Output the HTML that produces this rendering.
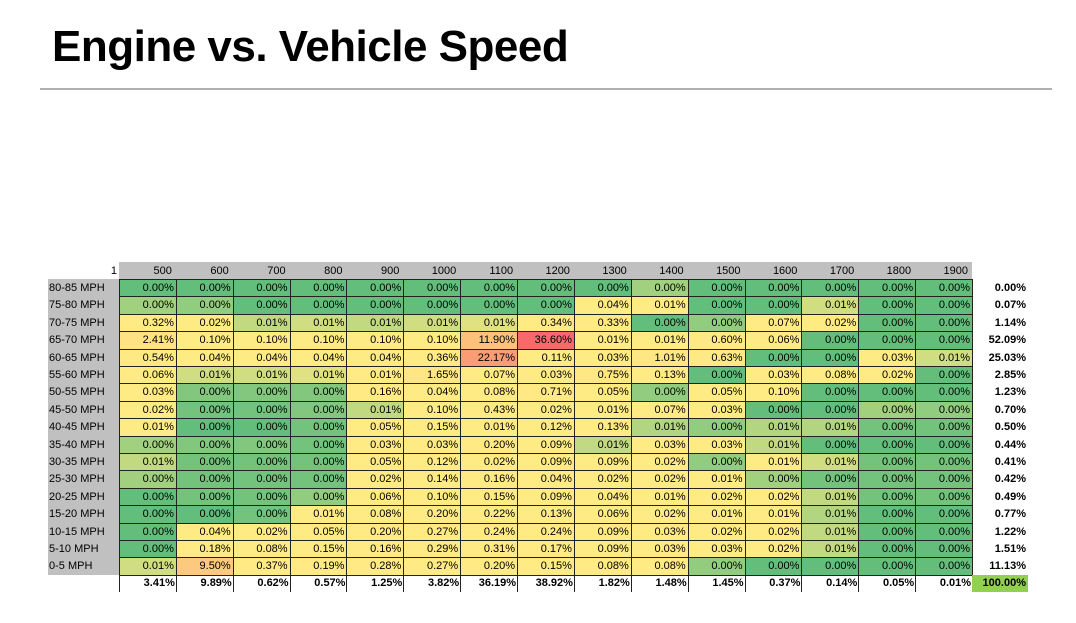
<!DOCTYPE html>
<html><head><meta charset="utf-8">
<style>
body{margin:0;width:1076px;height:623px;background:#fff;position:relative;overflow:hidden;font-family:"Liberation Sans",sans-serif}
#title{position:absolute;left:52px;top:22px;font-size:44px;font-weight:bold;color:#000;letter-spacing:-0.5px}
#rule{position:absolute;left:40px;top:88px;width:1012px;height:2px;background:#b0b0b0}
.c{position:absolute;box-sizing:border-box;font-size:11px;line-height:17px;text-align:right;padding-right:2px;white-space:nowrap;color:#000}
</style></head><body>
<div id="title">Engine vs. Vehicle Speed</div>
<div id="rule"></div>
<div id="grid"></div>
<script>
const rpm=["500","600","700","800","900","1000","1100","1200","1300","1400","1500","1600","1700","1800","1900"];
const speeds=["80-85 MPH","75-80 MPH","70-75 MPH","65-70 MPH","60-65 MPH","55-60 MPH","50-55 MPH","45-50 MPH","40-45 MPH","35-40 MPH","30-35 MPH","25-30 MPH","20-25 MPH","15-20 MPH","10-15 MPH","5-10 MPH","0-5 MPH"];
const values=[
[0,0,0,0,0,0,0,0,0,0.004,0,0,0,0,0],
[0.004,0.003,0,0,0,0,0,0,0.04,0.01,0,0,0.007,0,0],
[0.32,0.02,0.006,0.007,0.006,0.007,0.008,0.34,0.33,0,0.003,0.07,0.02,0,0],
[2.41,0.10,0.10,0.10,0.10,0.10,11.90,36.60,0.01,0.01,0.60,0.06,0,0,0],
[0.54,0.04,0.04,0.04,0.04,0.36,22.17,0.11,0.03,1.01,0.63,0,0,0.03,0.007],
[0.06,0.007,0.007,0.008,0.01,1.65,0.07,0.03,0.75,0.13,0,0.03,0.08,0.02,0],
[0.03,0.002,0.002,0.002,0.16,0.04,0.08,0.71,0.05,0.003,0.05,0.10,0,0,0],
[0.02,0.001,0.001,0.002,0.006,0.10,0.43,0.02,0.01,0.07,0.03,0,0,0.004,0.003],
[0.01,0,0,0.001,0.05,0.15,0.01,0.12,0.13,0.005,0.003,0.005,0.005,0.001,0.001],
[0.004,0.002,0.002,0.001,0.03,0.03,0.20,0.09,0.006,0.03,0.03,0.006,0,0,0],
[0.006,0.001,0.001,0.001,0.05,0.12,0.02,0.09,0.09,0.02,0.003,0.01,0.007,0.001,0.001],
[0.004,0.001,0.001,0.001,0.02,0.14,0.16,0.04,0.02,0.02,0.01,0.004,0.001,0.001,0.001],
[0,0.001,0.001,0.003,0.06,0.10,0.15,0.09,0.04,0.01,0.02,0.02,0.006,0.001,0.001],
[0,0,0.001,0.01,0.08,0.20,0.22,0.13,0.06,0.02,0.01,0.01,0.005,0,0],
[0,0.04,0.02,0.05,0.20,0.27,0.24,0.24,0.09,0.03,0.02,0.02,0.006,0,0],
[0,0.18,0.08,0.15,0.16,0.29,0.31,0.17,0.09,0.03,0.03,0.02,0.006,0,0],
[0.007,9.50,0.37,0.19,0.28,0.27,0.20,0.15,0.08,0.08,0.003,0,0,0,0]];
const rowTotals=[0.00,0.07,1.14,52.09,25.03,2.85,1.23,0.70,0.50,0.44,0.41,0.42,0.49,0.77,1.22,1.51,11.13];
const colTotals=[3.41,9.89,0.62,0.57,1.25,3.82,36.19,38.92,1.82,1.48,1.45,0.37,0.14,0.05,0.01];
const grandTotal=100.00;

const G=[99,190,123],Y=[255,235,132],R=[248,105,107];
function mix(a,b,t){return 'rgb('+a.map((v,i)=>Math.round(v+(b[i]-v)*t)).join(',')+')';}
let vmax=0;values.forEach(r=>r.forEach(v=>{if(v>vmax)vmax=v;}));
function color(v){if(v<0.01)return mix(G,Y,v/0.01);return mix(Y,R,Math.min(1,(v-0.01)/(vmax-0.01)));}
const X0=119,CW=56.87,Y0=279,RH=17.4,LX=48;
function xs(i){return X0+i*CW;}
function ys(j){return Y0+j*RH;}
const grid=document.getElementById('grid');
function cell(x,y,w,h,txt,css,name){
 const d=document.createElement('div');d.className='c';
 d.style.left=x+'px';d.style.top=y+'px';d.style.width=w+'px';d.style.height=h+'px';
 if(css)d.style.cssText+=css;d.textContent=txt;
 
 
 grid.appendChild(d);return d;}
// header
cell(LX,Y0-17,X0-LX,17,"1","line-height:19px","corner-label");
cell(X0,Y0-17,xs(15)-X0,17,"","background:#c0c0c0","header-band");
rpm.forEach((r,i)=>{cell(xs(i),Y0-17,CW,17,r,"line-height:19px;padding-right:4px","rpm-header");});
cell(LX,Y0,X0-LX,ys(17)-Y0,"","background:#c0c0c0","label-band");
speeds.forEach((s,j)=>{cell(LX,ys(j),X0-LX,RH,s,"text-align:left;padding-left:1px;line-height:18px","speed-label");});
values.forEach((row,j)=>row.forEach((v,i)=>{
 cell(xs(i),ys(j),CW+1,RH+1,v.toFixed(2)+'%',"background:"+color(v)+";border:1px solid #222;line-height:16px","heat-cell");
}));
rowTotals.forEach((t,j)=>{cell(xs(15),ys(j),1028-xs(15),RH,t.toFixed(2)+'%',"font-weight:bold;line-height:18px","row-total");});
colTotals.forEach((t,i)=>{cell(xs(i),ys(17),CW+1,17,t.toFixed(2)+'%',"font-weight:bold;border-left:1px solid #222;line-height:17px","column-total");});
cell(xs(15),ys(17),1028-xs(15),17,grandTotal.toFixed(2)+'%',"font-weight:bold;background:#92d050;line-height:17px","grand-total");
</script>
</body></html>
